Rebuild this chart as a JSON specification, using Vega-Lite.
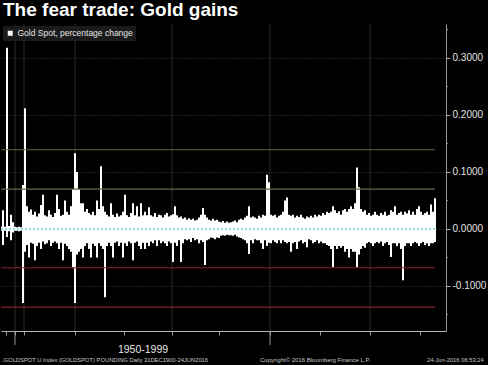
{
  "$schema": "https://vega.github.io/schema/vega-lite/v6.json",
  "background": "#000000",
  "padding": {"left": 0, "top": 0, "right": 2, "bottom": 1},
  "width": 445,
  "height": 307,
  "title": {"text": "The fear trade: Gold gains", "color": "#ffffff", "font": "Liberation Sans", "fontSize": 19, "fontWeight": "bold", "anchor": "start", "frame": "group", "dx": 2, "offset": 4},
  "config": {"view": {"stroke": null}},
  "datasets": {
    "gold": [
      {"t":0,"hi":0.004,"lo":-0.003},{"t":2,"hi":0.033,"lo":-0.028},{"t":4,"hi":0.004,"lo":-0.003},{"t":6,"hi":0.318,"lo":-0.014},
      {"t":8,"hi":0.005,"lo":-0.004},{"t":10,"hi":0.025,"lo":-0.02},{"t":12,"hi":0.012,"lo":-0.006},{"t":14,"hi":0.004,"lo":-0.003},
      {"t":16,"hi":0.003,"lo":-0.003},{"t":18,"hi":0.004,"lo":-0.004},{"t":20,"hi":0.003,"lo":-0.003},{"t":22,"hi":0.077,"lo":-0.13},
      {"t":24,"hi":0.212,"lo":-0.04},{"t":26,"hi":0.04,"lo":-0.028},{"t":28,"hi":0.03,"lo":-0.05},{"t":30,"hi":0.034,"lo":-0.024},
      {"t":32,"hi":0.025,"lo":-0.026},{"t":34,"hi":0.03,"lo":-0.055},{"t":36,"hi":0.022,"lo":-0.03},{"t":38,"hi":0.027,"lo":-0.024},
      {"t":40,"hi":0.042,"lo":-0.035},{"t":42,"hi":0.06,"lo":-0.022},{"t":44,"hi":0.024,"lo":-0.027},{"t":46,"hi":0.022,"lo":-0.025},
      {"t":48,"hi":0.033,"lo":-0.02},{"t":50,"hi":0.025,"lo":-0.03},{"t":52,"hi":0.021,"lo":-0.024},{"t":54,"hi":0.028,"lo":-0.022},
      {"t":56,"hi":0.06,"lo":-0.025},{"t":58,"hi":0.035,"lo":-0.035},{"t":60,"hi":0.023,"lo":-0.024},{"t":62,"hi":0.025,"lo":-0.055},
      {"t":64,"hi":0.05,"lo":-0.026},{"t":66,"hi":0.03,"lo":-0.03},{"t":68,"hi":0.025,"lo":-0.035},{"t":70,"hi":0.04,"lo":-0.04},
      {"t":72,"hi":0.07,"lo":-0.068},{"t":74,"hi":0.133,"lo":-0.13},{"t":76,"hi":0.1,"lo":-0.045},{"t":78,"hi":0.07,"lo":-0.04},
      {"t":80,"hi":0.045,"lo":-0.035},{"t":82,"hi":0.045,"lo":-0.05},{"t":84,"hi":0.03,"lo":-0.03},{"t":86,"hi":0.035,"lo":-0.025},
      {"t":88,"hi":0.028,"lo":-0.035},{"t":90,"hi":0.025,"lo":-0.05},{"t":92,"hi":0.03,"lo":-0.026},{"t":94,"hi":0.024,"lo":-0.03},
      {"t":96,"hi":0.05,"lo":-0.05},{"t":98,"hi":0.035,"lo":-0.025},{"t":100,"hi":0.11,"lo":-0.03},{"t":102,"hi":0.04,"lo":-0.035},
      {"t":104,"hi":0.03,"lo":-0.12},{"t":106,"hi":0.025,"lo":-0.03},{"t":108,"hi":0.022,"lo":-0.024},{"t":110,"hi":0.045,"lo":-0.03},
      {"t":112,"hi":0.025,"lo":-0.05},{"t":114,"hi":0.021,"lo":-0.024},{"t":116,"hi":0.027,"lo":-0.022},{"t":118,"hi":0.022,"lo":-0.03},
      {"t":120,"hi":0.024,"lo":-0.024},{"t":122,"hi":0.03,"lo":-0.05},{"t":124,"hi":0.06,"lo":-0.025},{"t":126,"hi":0.024,"lo":-0.03},
      {"t":128,"hi":0.021,"lo":-0.022},{"t":130,"hi":0.028,"lo":-0.025},{"t":132,"hi":0.045,"lo":-0.055},{"t":134,"hi":0.024,"lo":-0.024},
      {"t":136,"hi":0.04,"lo":-0.022},{"t":138,"hi":0.022,"lo":-0.03},{"t":140,"hi":0.045,"lo":-0.035},{"t":142,"hi":0.024,"lo":-0.024},
      {"t":144,"hi":0.03,"lo":-0.035},{"t":146,"hi":0.024,"lo":-0.024},{"t":148,"hi":0.038,"lo":-0.03},{"t":150,"hi":0.024,"lo":-0.022},
      {"t":152,"hi":0.022,"lo":-0.025},{"t":154,"hi":0.028,"lo":-0.02},{"t":156,"hi":0.021,"lo":-0.03},{"t":158,"hi":0.025,"lo":-0.02},
      {"t":160,"hi":0.024,"lo":-0.025},{"t":162,"hi":0.02,"lo":-0.022},{"t":164,"hi":0.025,"lo":-0.025},{"t":166,"hi":0.028,"lo":-0.03},
      {"t":168,"hi":0.022,"lo":-0.022},{"t":170,"hi":0.024,"lo":-0.025},{"t":172,"hi":0.026,"lo":-0.058},{"t":174,"hi":0.04,"lo":-0.024},
      {"t":176,"hi":0.024,"lo":-0.03},{"t":178,"hi":0.02,"lo":-0.02},{"t":180,"hi":0.022,"lo":-0.058},{"t":182,"hi":0.018,"lo":-0.025},
      {"t":184,"hi":0.02,"lo":-0.018},{"t":186,"hi":0.016,"lo":-0.02},{"t":188,"hi":0.019,"lo":-0.018},{"t":190,"hi":0.016,"lo":-0.023},
      {"t":192,"hi":0.018,"lo":-0.016},{"t":194,"hi":0.015,"lo":-0.02},{"t":196,"hi":0.016,"lo":-0.018},{"t":198,"hi":0.02,"lo":-0.025},
      {"t":200,"hi":0.025,"lo":-0.02},{"t":202,"hi":0.037,"lo":-0.023},{"t":204,"hi":0.025,"lo":-0.063},{"t":206,"hi":0.02,"lo":-0.02},
      {"t":208,"hi":0.016,"lo":-0.018},{"t":210,"hi":0.015,"lo":-0.015},{"t":212,"hi":0.018,"lo":-0.016},{"t":214,"hi":0.015,"lo":-0.018},
      {"t":216,"hi":0.016,"lo":-0.015},{"t":218,"hi":0.013,"lo":-0.016},{"t":220,"hi":0.012,"lo":-0.012},{"t":222,"hi":0.014,"lo":-0.011},
      {"t":224,"hi":0.011,"lo":-0.012},{"t":226,"hi":0.013,"lo":-0.01},{"t":228,"hi":0.011,"lo":-0.011},{"t":230,"hi":0.012,"lo":-0.011},
      {"t":232,"hi":0.013,"lo":-0.012},{"t":234,"hi":0.015,"lo":-0.01},{"t":236,"hi":0.012,"lo":-0.013},{"t":238,"hi":0.016,"lo":-0.015},
      {"t":240,"hi":0.018,"lo":-0.016},{"t":242,"hi":0.016,"lo":-0.018},{"t":244,"hi":0.02,"lo":-0.02},{"t":246,"hi":0.023,"lo":-0.025},
      {"t":248,"hi":0.04,"lo":-0.044},{"t":250,"hi":0.02,"lo":-0.02},{"t":252,"hi":0.022,"lo":-0.025},{"t":254,"hi":0.02,"lo":-0.018},
      {"t":256,"hi":0.018,"lo":-0.02},{"t":258,"hi":0.023,"lo":-0.02},{"t":260,"hi":0.02,"lo":-0.025},{"t":262,"hi":0.025,"lo":-0.035},
      {"t":264,"hi":0.023,"lo":-0.02},{"t":266,"hi":0.095,"lo":-0.03},{"t":268,"hi":0.082,"lo":-0.024},{"t":270,"hi":0.025,"lo":-0.025},
      {"t":272,"hi":0.023,"lo":-0.02},{"t":274,"hi":0.025,"lo":-0.023},{"t":276,"hi":0.02,"lo":-0.025},{"t":278,"hi":0.023,"lo":-0.02},
      {"t":280,"hi":0.025,"lo":-0.025},{"t":282,"hi":0.03,"lo":-0.02},{"t":284,"hi":0.05,"lo":-0.023},{"t":286,"hi":0.055,"lo":-0.025},
      {"t":288,"hi":0.025,"lo":-0.023},{"t":290,"hi":0.023,"lo":-0.04},{"t":292,"hi":0.025,"lo":-0.025},{"t":294,"hi":0.02,"lo":-0.023},
      {"t":296,"hi":0.023,"lo":-0.035},{"t":298,"hi":0.021,"lo":-0.022},{"t":300,"hi":0.025,"lo":-0.02},{"t":302,"hi":0.02,"lo":-0.025},
      {"t":304,"hi":0.018,"lo":-0.023},{"t":306,"hi":0.022,"lo":-0.032},{"t":308,"hi":0.02,"lo":-0.018},{"t":310,"hi":0.023,"lo":-0.02},
      {"t":312,"hi":0.02,"lo":-0.025},{"t":314,"hi":0.025,"lo":-0.023},{"t":316,"hi":0.022,"lo":-0.02},{"t":318,"hi":0.025,"lo":-0.025},
      {"t":320,"hi":0.023,"lo":-0.022},{"t":322,"hi":0.028,"lo":-0.025},{"t":324,"hi":0.025,"lo":-0.025},{"t":326,"hi":0.03,"lo":-0.028},
      {"t":328,"hi":0.028,"lo":-0.03},{"t":330,"hi":0.03,"lo":-0.035},{"t":332,"hi":0.04,"lo":-0.067},{"t":334,"hi":0.033,"lo":-0.03},
      {"t":336,"hi":0.028,"lo":-0.035},{"t":338,"hi":0.031,"lo":-0.03},{"t":340,"hi":0.025,"lo":-0.033},{"t":342,"hi":0.033,"lo":-0.03},
      {"t":344,"hi":0.035,"lo":-0.04},{"t":346,"hi":0.03,"lo":-0.035},{"t":348,"hi":0.035,"lo":-0.05},{"t":350,"hi":0.04,"lo":-0.035},
      {"t":352,"hi":0.035,"lo":-0.04},{"t":354,"hi":0.045,"lo":-0.04},{"t":356,"hi":0.108,"lo":-0.067},{"t":358,"hi":0.073,"lo":-0.045},
      {"t":360,"hi":0.035,"lo":-0.035},{"t":362,"hi":0.03,"lo":-0.03},{"t":364,"hi":0.033,"lo":-0.033},{"t":366,"hi":0.025,"lo":-0.025},
      {"t":368,"hi":0.028,"lo":-0.023},{"t":370,"hi":0.023,"lo":-0.025},{"t":372,"hi":0.025,"lo":-0.03},{"t":374,"hi":0.03,"lo":-0.025},
      {"t":376,"hi":0.025,"lo":-0.023},{"t":378,"hi":0.023,"lo":-0.025},{"t":380,"hi":0.028,"lo":-0.022},{"t":382,"hi":0.025,"lo":-0.03},
      {"t":384,"hi":0.03,"lo":-0.025},{"t":386,"hi":0.023,"lo":-0.023},{"t":388,"hi":0.025,"lo":-0.028},{"t":390,"hi":0.033,"lo":-0.049},
      {"t":392,"hi":0.03,"lo":-0.025},{"t":394,"hi":0.04,"lo":-0.025},{"t":396,"hi":0.025,"lo":-0.03},{"t":398,"hi":0.028,"lo":-0.025},
      {"t":400,"hi":0.03,"lo":-0.035},{"t":402,"hi":0.025,"lo":-0.09},{"t":404,"hi":0.03,"lo":-0.03},{"t":406,"hi":0.027,"lo":-0.025},
      {"t":408,"hi":0.033,"lo":-0.025},{"t":410,"hi":0.025,"lo":-0.03},{"t":412,"hi":0.03,"lo":-0.025},{"t":414,"hi":0.025,"lo":-0.023},
      {"t":416,"hi":0.035,"lo":-0.025},{"t":418,"hi":0.04,"lo":-0.03},{"t":420,"hi":0.03,"lo":-0.025},{"t":422,"hi":0.025,"lo":-0.023},
      {"t":424,"hi":0.028,"lo":-0.028},{"t":426,"hi":0.03,"lo":-0.025},{"t":428,"hi":0.025,"lo":-0.03},{"t":430,"hi":0.043,"lo":-0.025},
      {"t":432,"hi":0.03,"lo":-0.025},{"t":434,"hi":0.054,"lo":-0.023}
    ],
    "vgrid": [{"t":14},{"t":23},{"t":74},{"t":171},{"t":269},{"t":369}],
    "greenLevels": [{"v":0.139},{"v":0.07}],
    "redLevels": [{"v":-0.068},{"v":-0.137}],
    "zeroLine": [{"v":0}],
    "minorTicks": [{"v":0.35},{"v":0.25},{"v":0.15},{"v":0.05},{"v":-0.05},{"v":-0.15}],
    "longTicks": [{"t":14},{"t":269}],
    "period": [{"label":"1950-1999"}],
    "footLeft": [{"label":".GOLDSPOT U Index (GOLDSPOT) POUNDING  Daily 31DEC1900-24JUN2016"}],
    "footMid": [{"label":"Copyright© 2016 Bloomberg Finance L.P."}],
    "footRight": [{"label":"24-Jun-2016 06:53:24"}]
  },
  "layer": [
    {
      "data": {"name": "vgrid"},
      "mark": {"type": "rule", "color": "#2a2a2a", "strokeWidth": 1},
      "encoding": {
        "x": {"field": "t", "type": "quantitative", "title": null, "scale": {"domain": [0, 445], "nice": false, "zero": false}}
      }
    },
    {
      "data": {"name": "gold"},
      "mark": {"type": "rule", "strokeWidth": 2, "clip": true},
      "encoding": {
        "x": {"field": "t", "type": "quantitative", "title": null,
          "scale": {"domain": [0, 445], "nice": false, "zero": false},
          "axis": {"orient": "bottom", "values": [5,14,23,74,123,171,218,269,319,369,419], "labels": false, "grid": false, "ticks": true, "tickSize": 4, "tickColor": "#9a9a9a", "domainColor": "#b4b4b4", "title": null}},
        "y": {"field": "lo", "type": "quantitative", "title": null,
          "scale": {"domain": [-0.179, 0.3596], "nice": false, "zero": false},
          "axis": {"orient": "right", "values": [-0.1, 0, 0.1, 0.2, 0.3], "labelExpr": "replace(format(datum.value, '.4f'), '−', '-')", "grid": true, "gridColor": "#383838", "gridDash": [1, 2], "tickSize": 4, "tickColor": "#a8a8a8", "domainColor": "#9a9a9a", "labelColor": "#e2e2e2", "labelFont": "Liberation Sans", "labelFontSize": 10, "labelPadding": 2, "title": null}},
        "y2": {"field": "hi"},
        "color": {"datum": "Gold Spot, percentage change", "type": "nominal", "scale": {"range": ["#ffffff"]},
          "legend": {"title": null, "orient": "top-left", "offset": 2, "fillColor": "#1b1b1b", "padding": 3, "labelColor": "#e6e6e6", "labelFont": "Liberation Sans", "labelFontSize": 8.5, "symbolType": "square", "symbolFillColor": "#ffffff", "symbolStrokeColor": "#ffffff", "symbolStrokeWidth": 0, "symbolSize": 25, "labelOffset": 3}}
      }
    },
    {
      "data": {"name": "greenLevels"},
      "mark": {"type": "rule", "color": "#5a6c48", "strokeWidth": 1.2},
      "encoding": {
        "y": {"field": "v", "type": "quantitative", "title": null, "scale": {"domain": [-0.179, 0.3596], "nice": false, "zero": false}},
        "x": {"datum": 0, "type": "quantitative", "scale": {"domain": [0, 445], "nice": false, "zero": false}},
        "x2": {"datum": 434}
      }
    },
    {
      "data": {"name": "redLevels"},
      "mark": {"type": "rule", "color": "#8a1f2e", "strokeWidth": 1.2},
      "encoding": {
        "y": {"field": "v", "type": "quantitative", "title": null, "scale": {"domain": [-0.179, 0.3596], "nice": false, "zero": false}},
        "x": {"datum": 0, "type": "quantitative", "scale": {"domain": [0, 445], "nice": false, "zero": false}},
        "x2": {"datum": 434}
      }
    },
    {
      "data": {"name": "zeroLine"},
      "mark": {"type": "rule", "color": "#34b8c8", "strokeWidth": 1, "strokeDash": [2, 2]},
      "encoding": {
        "y": {"field": "v", "type": "quantitative", "title": null, "scale": {"domain": [-0.179, 0.3596], "nice": false, "zero": false}},
        "x": {"datum": 0, "type": "quantitative", "scale": {"domain": [0, 445], "nice": false, "zero": false}},
        "x2": {"datum": 434}
      }
    },
    {
      "data": {"name": "minorTicks"},
      "mark": {"type": "rule", "color": "#8a8a8a", "strokeWidth": 1, "clip": false},
      "encoding": {
        "y": {"field": "v", "type": "quantitative", "title": null, "scale": {"domain": [-0.179, 0.3596], "nice": false, "zero": false}},
        "x": {"datum": 445, "type": "quantitative", "scale": {"domain": [0, 445], "nice": false, "zero": false}},
        "x2": {"datum": 447}
      }
    },
    {
      "data": {"name": "longTicks"},
      "mark": {"type": "rule", "color": "#9a9a9a", "strokeWidth": 1, "clip": false},
      "encoding": {
        "x": {"field": "t", "type": "quantitative", "title": null, "scale": {"domain": [0, 445], "nice": false, "zero": false}},
        "y": {"datum": -0.179, "type": "quantitative", "scale": {"domain": [-0.179, 0.3596], "nice": false, "zero": false}},
        "y2": {"datum": -0.2035}
      }
    },
    {
      "data": {"name": "period"},
      "mark": {"type": "text", "color": "#e6e6e6", "font": "Liberation Sans", "fontSize": 10.5, "align": "center", "baseline": "middle", "clip": false},
      "encoding": {
        "x": {"datum": 142, "type": "quantitative", "scale": {"domain": [0, 445], "nice": false, "zero": false}},
        "y": {"datum": -0.2123, "type": "quantitative", "scale": {"domain": [-0.179, 0.3596], "nice": false, "zero": false}},
        "text": {"field": "label", "type": "nominal"}
      }
    },
    {
      "data": {"name": "footLeft"},
      "mark": {"type": "text", "color": "#c8c8c8", "font": "Liberation Sans", "fontSize": 5.8, "align": "left", "baseline": "middle", "clip": false},
      "encoding": {
        "x": {"datum": 1, "type": "quantitative", "scale": {"domain": [0, 445], "nice": false, "zero": false}},
        "y": {"datum": -0.2307, "type": "quantitative", "scale": {"domain": [-0.179, 0.3596], "nice": false, "zero": false}},
        "text": {"field": "label", "type": "nominal"}
      }
    },
    {
      "data": {"name": "footMid"},
      "mark": {"type": "text", "color": "#c8c8c8", "font": "Liberation Sans", "fontSize": 6, "align": "left", "baseline": "middle", "clip": false},
      "encoding": {
        "x": {"datum": 259, "type": "quantitative", "scale": {"domain": [0, 445], "nice": false, "zero": false}},
        "y": {"datum": -0.2307, "type": "quantitative", "scale": {"domain": [-0.179, 0.3596], "nice": false, "zero": false}},
        "text": {"field": "label", "type": "nominal"}
      }
    },
    {
      "data": {"name": "footRight"},
      "mark": {"type": "text", "color": "#c8c8c8", "font": "Liberation Sans", "fontSize": 5.8, "align": "left", "baseline": "middle", "clip": false},
      "encoding": {
        "x": {"datum": 426, "type": "quantitative", "scale": {"domain": [0, 445], "nice": false, "zero": false}},
        "y": {"datum": -0.2307, "type": "quantitative", "scale": {"domain": [-0.179, 0.3596], "nice": false, "zero": false}},
        "text": {"field": "label", "type": "nominal"}
      }
    }
  ]
}
